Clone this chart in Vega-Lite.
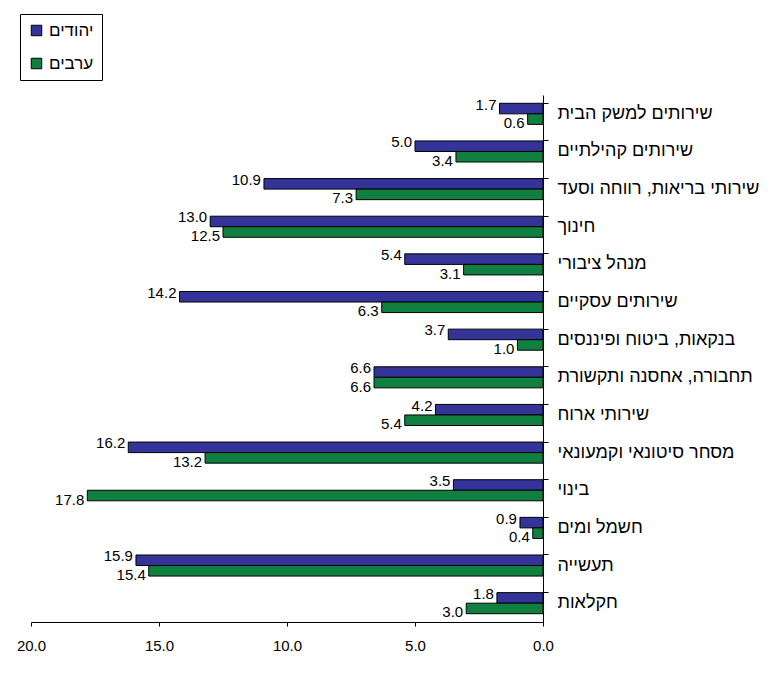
{
  "$schema": "https://vega.github.io/schema/vega-lite/v6.json",
  "width": 512,
  "height": 527,
  "autosize": {"type": "none"},
  "padding": {"left": 31, "top": 95, "right": 235, "bottom": 55},
  "background": "white",
  "config": {
    "font": "Liberation Sans",
    "view": {"stroke": null},
    "axis": {"domainColor": "#000", "tickColor": "#000", "labelColor": "#000", "grid": false, "labelFontWeight": "normal"}
  },
  "data": {
    "values": [
      {"cat": "שירותים למשק הבית", "series": "יהודים", "v": 1.7},
      {"cat": "שירותים למשק הבית", "series": "ערבים", "v": 0.6},
      {"cat": "שירותים קהילתיים", "series": "יהודים", "v": 5.0},
      {"cat": "שירותים קהילתיים", "series": "ערבים", "v": 3.4},
      {"cat": "שירותי בריאות, רווחה וסעד", "series": "יהודים", "v": 10.9},
      {"cat": "שירותי בריאות, רווחה וסעד", "series": "ערבים", "v": 7.3},
      {"cat": "חינוך", "series": "יהודים", "v": 13.0},
      {"cat": "חינוך", "series": "ערבים", "v": 12.5},
      {"cat": "מנהל ציבורי", "series": "יהודים", "v": 5.4},
      {"cat": "מנהל ציבורי", "series": "ערבים", "v": 3.1},
      {"cat": "שירותים עסקיים", "series": "יהודים", "v": 14.2},
      {"cat": "שירותים עסקיים", "series": "ערבים", "v": 6.3},
      {"cat": "בנקאות, ביטוח ופיננסים", "series": "יהודים", "v": 3.7},
      {"cat": "בנקאות, ביטוח ופיננסים", "series": "ערבים", "v": 1.0},
      {"cat": "תחבורה, אחסנה ותקשורת", "series": "יהודים", "v": 6.6},
      {"cat": "תחבורה, אחסנה ותקשורת", "series": "ערבים", "v": 6.6},
      {"cat": "שירותי ארוח", "series": "יהודים", "v": 4.2},
      {"cat": "שירותי ארוח", "series": "ערבים", "v": 5.4},
      {"cat": "מסחר סיטונאי וקמעונאי", "series": "יהודים", "v": 16.2},
      {"cat": "מסחר סיטונאי וקמעונאי", "series": "ערבים", "v": 13.2},
      {"cat": "בינוי", "series": "יהודים", "v": 3.5},
      {"cat": "בינוי", "series": "ערבים", "v": 17.8},
      {"cat": "חשמל ומים", "series": "יהודים", "v": 0.9},
      {"cat": "חשמל ומים", "series": "ערבים", "v": 0.4},
      {"cat": "תעשייה", "series": "יהודים", "v": 15.9},
      {"cat": "תעשייה", "series": "ערבים", "v": 15.4},
      {"cat": "חקלאות", "series": "יהודים", "v": 1.8},
      {"cat": "חקלאות", "series": "ערבים", "v": 3.0}
    ]
  },
  "encoding": {
    "y": {
      "field": "cat", "type": "nominal", "sort": null,
      "scale": {"paddingInner": 0.44, "paddingOuter": 0.22},
      "axis": {"orient": "right", "title": null, "labelFontSize": 18, "labelAlign": "left", "labelPadding": 9, "tickSize": 5, "bandPosition": 0, "labelBound": false, "labelLimit": 400}
    },
    "yOffset": {"field": "series", "type": "nominal", "sort": ["יהודים", "ערבים"], "scale": {"paddingInner": 0, "paddingOuter": 0}},
    "x": {
      "field": "v", "type": "quantitative",
      "scale": {"domain": [0, 20], "reverse": true, "nice": false},
      "axis": {"title": null, "values": [0, 5, 10, 15, 20], "format": ".1f", "labelFontSize": 15, "tickSize": 4, "labelPadding": 12, "labelFlush": false}
    }
  },
  "layer": [
    {
      "mark": {"type": "bar", "stroke": "#000", "strokeWidth": 1},
      "encoding": {
        "color": {
          "field": "series", "type": "nominal",
          "scale": {"domain": ["יהודים", "ערבים"], "range": ["#333399", "#108040"]},
          "legend": {
            "title": null, "orient": "none", "legendX": -11, "legendY": -81,
            "symbolType": "square", "symbolSize": 110, "symbolStrokeColor": "#000", "symbolStrokeWidth": 1,
            "labelFontSize": 17, "labelColor": "#000", "labelOffset": 4, "rowPadding": 15,
            "strokeColor": "#000", "fillColor": "white", "padding": 8, "cornerRadius": 0
          }
        }
      }
    },
    {
      "transform": [{"filter": "datum.series === 'יהודים'"}],
      "mark": {"type": "text", "align": "right", "baseline": "middle", "dx": -3, "dy": -4, "fontSize": 15, "fontWeight": "normal", "color": "#000"},
      "encoding": {"text": {"field": "v", "type": "quantitative", "format": ".1f"}}
    },
    {
      "transform": [{"filter": "datum.series === 'ערבים'"}],
      "mark": {"type": "text", "align": "right", "baseline": "middle", "dx": -3, "dy": 4, "fontSize": 15, "fontWeight": "normal", "color": "#000"},
      "encoding": {"text": {"field": "v", "type": "quantitative", "format": ".1f"}}
    }
  ]
}
